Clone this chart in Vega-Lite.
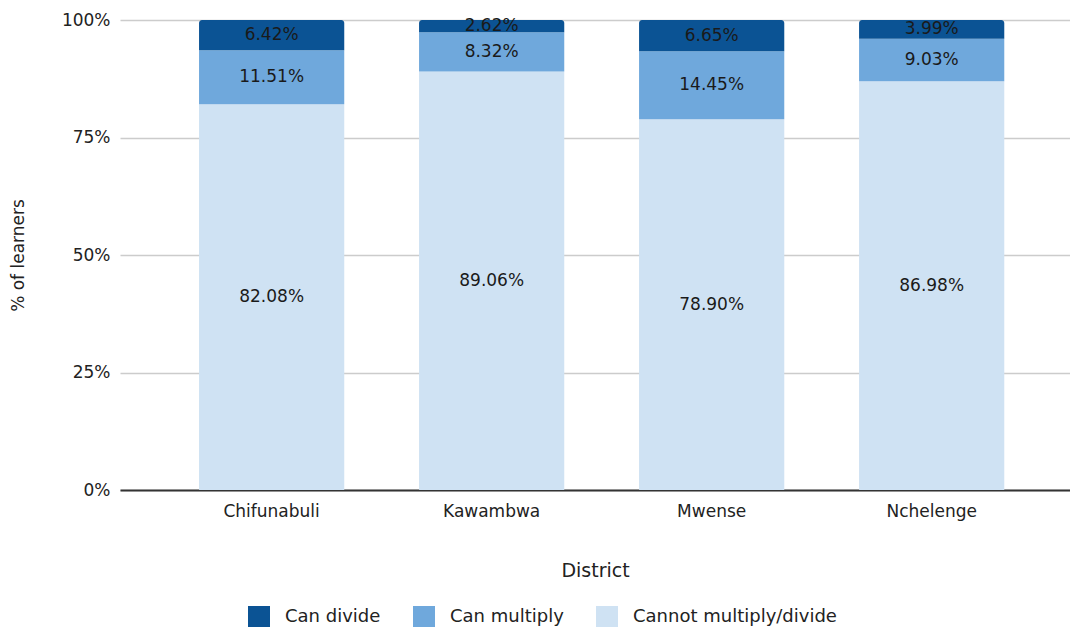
{
  "$schema": "https://vega.github.io/schema/vega-lite/v6.json",
  "width": 950,
  "height": 470,
  "autosize": "none",
  "padding": {"left": 120, "top": 20, "right": 0, "bottom": 137},
  "background": "white",
  "config": {
    "view": {"stroke": null},
    "font": "DejaVu Sans",
    "axisY": {
      "titleFont": "DejaVu Sans",
      "titleFontSize": 17,
      "titleFontWeight": "normal",
      "titleColor": "#222222",
      "titlePadding": 34,
      "labelFont": "DejaVu Sans",
      "labelFontSize": 17,
      "labelColor": "#222222",
      "labelPadding": 10,
      "ticks": false,
      "domain": false,
      "grid": true,
      "gridColor": "#cccccc",
      "gridWidth": 1.5
    }
  },
  "data": {
    "values": [
      {"District": "Chifunabuli", "Category": "Cannot multiply/divide", "Order": 1, "Share": 0.8208},
      {"District": "Chifunabuli", "Category": "Can multiply", "Order": 2, "Share": 0.1151},
      {"District": "Chifunabuli", "Category": "Can divide", "Order": 3, "Share": 0.0642},
      {"District": "Kawambwa", "Category": "Cannot multiply/divide", "Order": 1, "Share": 0.8906},
      {"District": "Kawambwa", "Category": "Can multiply", "Order": 2, "Share": 0.0832},
      {"District": "Kawambwa", "Category": "Can divide", "Order": 3, "Share": 0.0262},
      {"District": "Mwense", "Category": "Cannot multiply/divide", "Order": 1, "Share": 0.789},
      {"District": "Mwense", "Category": "Can multiply", "Order": 2, "Share": 0.1445},
      {"District": "Mwense", "Category": "Can divide", "Order": 3, "Share": 0.0665},
      {"District": "Nchelenge", "Category": "Cannot multiply/divide", "Order": 1, "Share": 0.8698},
      {"District": "Nchelenge", "Category": "Can multiply", "Order": 2, "Share": 0.0903},
      {"District": "Nchelenge", "Category": "Can divide", "Order": 3, "Share": 0.0399}
    ]
  },
  "encoding": {
    "x": {
      "field": "District",
      "type": "nominal",
      "sort": ["Chifunabuli", "Kawambwa", "Mwense", "Nchelenge"],
      "scale": {"paddingInner": 0.34, "paddingOuter": 0.329, "align": 0.546},
      "axis": {
        "title": "District",
        "titleFont": "DejaVu Sans",
        "titleFontSize": 19,
        "titleFontWeight": "normal",
        "titleColor": "#222222",
        "titlePadding": 42,
        "labelFont": "DejaVu Sans",
        "labelFontSize": 17,
        "labelColor": "#222222",
        "labelAngle": 0,
        "labelPadding": 13,
        "ticks": false,
        "domain": true,
        "domainColor": "#333333",
        "domainWidth": 2,
        "grid": false
      }
    },
    "color": {
      "field": "Category",
      "type": "nominal",
      "scale": {
        "domain": ["Can divide", "Can multiply", "Cannot multiply/divide"],
        "range": ["#0b5394", "#6fa8dc", "#cfe2f3"]
      },
      "legend": {
        "title": null,
        "orient": "none",
        "direction": "horizontal",
        "legendX": 128,
        "legendY": 586,
        "symbolType": "square",
        "symbolSize": 484,
        "symbolStrokeWidth": 0,
        "labelFont": "DejaVu Sans",
        "labelFontSize": 18,
        "labelColor": "#222222",
        "labelOffset": 15,
        "labelLimit": 400,
        "columnPadding": 32
      }
    }
  },
  "layer": [
    {
      "transform": [{"filter": "datum.Category !== 'Can divide'"}],
      "mark": {"type": "bar"},
      "encoding": {
        "y": {
          "field": "Share",
          "type": "quantitative",
          "stack": "zero",
          "scale": {"domain": [0, 1], "nice": false},
          "axis": {"title": "% of learners", "values": [0, 0.25, 0.5, 0.75, 1], "format": ".0%"}
        },
        "order": {"field": "Order", "type": "quantitative"}
      }
    },
    {
      "transform": [
        {"stack": "Share", "groupby": ["District"], "sort": [{"field": "Order"}], "as": ["s0", "s1"]},
        {"filter": "datum.Category === 'Can divide'"}
      ],
      "mark": {"type": "bar", "cornerRadiusTopLeft": 3, "cornerRadiusTopRight": 3},
      "encoding": {
        "y": {
          "field": "s0",
          "type": "quantitative",
          "scale": {"domain": [0, 1], "nice": false},
          "axis": {"title": "% of learners", "values": [0, 0.25, 0.5, 0.75, 1], "format": ".0%"}
        },
        "y2": {"field": "s1"}
      }
    },
    {
      "mark": {"type": "text", "font": "DejaVu Sans", "fontSize": 17, "baseline": "middle", "align": "center"},
      "encoding": {
        "y": {
          "field": "Share",
          "type": "quantitative",
          "stack": "zero",
          "bandPosition": 0.5,
          "axis": {"title": "% of learners", "values": [0, 0.25, 0.5, 0.75, 1], "format": ".0%"}
        },
        "text": {"field": "Share", "type": "quantitative", "format": ".2%"},
        "order": {"field": "Order", "type": "quantitative"},
        "color": {"value": "#1a1a1a"}
      }
    }
  ]
}
